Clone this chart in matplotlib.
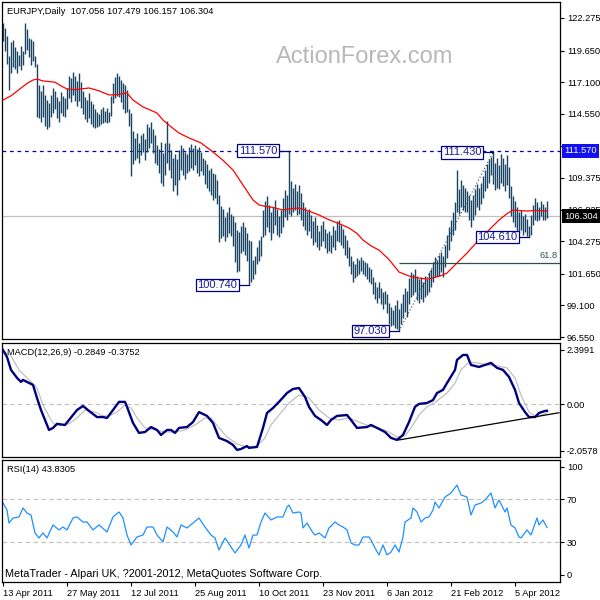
import numpy as np
import matplotlib
matplotlib.use('Agg')
import matplotlib.pyplot as plt
from matplotlib.transforms import blended_transform_factory as btf

plt.rcParams['font.family'] = ['Liberation Sans', 'DejaVu Sans']

# ---------------- data ----------------
title_main = "EURJPY,Daily  107.056 107.479 106.157 106.304"
title_macd = "MACD(12,26,9) -0.2849 -0.3752"
title_rsi = "RSI(14) 43.8305"
footer = "MetaTrader - Alpari UK, ?2001-2012, MetaQuotes Software Corp."
watermark = "ActionForex.com"

date_labels = ["13 Apr 2011", "27 May 2011", "12 Jul 2011", "25 Aug 2011", "10 Oct 2011",
               "23 Nov 2011", "6 Jan 2012", "21 Feb 2012", "5 Apr 2012"]
bars_per_label = 32

highs = [
    121.9, 121.5, 120.8, 119.2, 120.3, 120.5, 119.9, 119.6, 119.3, 120.0,
    119.6, 121.9, 121.4, 120.7, 120.6, 120.4, 119.2, 118.6, 116.9, 116.4,
    116.9, 116.1, 115.7, 115.4, 116.1, 116.6, 116.4, 115.9, 115.6, 116.3,
    116.0, 115.8, 116.6, 117.6, 117.4, 117.9, 117.6, 117.2, 117.8, 117.1,
    116.4, 115.9, 115.7, 116.2, 115.6, 115.3, 114.9, 114.7, 114.5, 114.9,
    115.1, 114.8, 115.0, 114.7, 116.0, 117.0, 117.5, 117.8, 117.6, 117.3,
    117.0, 116.9, 116.5, 114.9, 114.6, 113.2, 112.6, 113.0, 112.2, 112.8,
    113.0, 112.5, 113.7, 113.5, 113.9, 113.3, 112.8, 112.0, 111.7, 112.3,
    111.4, 112.2, 114.0, 112.2, 111.6, 111.0, 111.3, 110.9, 111.6, 112.0,
    111.8, 111.5, 111.3, 111.9, 112.1, 111.8, 112.0, 111.7, 111.9, 111.5,
    111.0, 110.8, 110.5, 110.0, 110.2, 109.8, 109.7, 109.2, 108.0, 107.1,
    106.9, 106.2, 106.6, 107.0, 106.5, 106.3, 105.8, 105.2, 105.0, 105.5,
    105.8, 105.4, 104.9, 104.4, 104.3, 102.8, 103.1, 103.8, 104.4, 104.7,
    106.8, 107.5, 107.9, 107.2, 106.6, 107.0, 107.6, 106.9, 106.3, 106.8,
    107.8, 108.4, 108.0, 111.57, 109.1, 108.6, 108.9, 108.3, 108.8, 108.2,
    107.4, 107.0, 106.7, 106.9, 106.4, 105.9, 106.2, 105.6, 105.1, 105.6,
    105.9, 105.3, 104.9, 105.1, 104.8, 105.5, 105.2, 105.9, 106.0, 105.6,
    105.3, 104.8, 104.4, 103.8, 103.1, 102.7, 102.4, 102.9, 102.8, 103.0,
    102.8, 102.6, 102.5, 102.2, 102.0, 101.4, 101.0, 100.6, 101.0, 100.5,
    100.2, 100.3, 100.0, 99.3, 99.0, 98.7, 99.1, 99.5, 98.8, 99.3,
    100.0, 100.5, 100.3, 101.3, 101.8, 101.6, 102.0, 101.5, 101.2, 101.4,
    101.0, 101.5, 101.2, 101.8, 102.0, 102.6, 103.0, 102.8, 103.2, 103.4,
    103.1, 104.0, 104.8, 105.4, 106.0, 106.6, 107.4, 110.0, 108.5, 109.2,
    108.8, 108.6, 108.3, 108.0, 107.6, 108.0, 108.5, 108.9, 108.6, 109.0,
    109.5, 110.0, 110.5, 110.9, 111.1, 111.43, 110.6, 111.0, 110.4, 111.3,
    111.0, 110.5, 111.2, 110.3, 108.7, 107.9, 107.5, 107.0, 106.6, 106.8,
    106.3, 106.5, 106.1, 105.5, 106.4, 107.2, 107.8, 107.4, 107.0, 107.5,
    107.3, 107.0, 107.479]

lows = [
    120.4, 119.6, 118.6, 116.5, 117.8, 118.3, 118.2, 117.8, 118.4, 118.1,
    118.5, 119.4, 119.7, 119.1, 118.5, 118.8, 118.3, 114.3, 114.2, 113.9,
    114.3, 113.6, 113.3, 113.5, 114.3, 114.6, 114.9, 114.2, 113.9, 114.6,
    114.4, 114.3, 114.9, 115.8, 115.5, 116.1, 115.6, 115.2, 115.6, 115.0,
    114.5, 114.1, 113.9, 114.2, 113.7, 113.5, 113.4, 113.5, 113.6, 113.7,
    113.8, 113.9, 113.8, 113.9, 114.4, 115.4, 115.8, 116.0, 115.9, 115.5,
    114.9, 114.6, 114.7, 113.6, 109.5, 110.5, 110.8, 111.0, 110.6, 111.2,
    111.5, 110.8, 111.5, 111.8, 112.2, 111.4, 110.6, 110.4, 109.8, 109.0,
    108.7, 109.6, 110.6, 110.0, 109.4, 108.3, 108.8, 108.0, 109.2, 110.0,
    109.6, 109.3, 109.8, 109.9, 110.2, 110.0, 110.4, 109.8, 109.5, 109.9,
    109.6, 108.9, 108.6, 108.3, 108.0, 107.6, 107.8, 107.3, 104.2, 104.5,
    104.7, 104.3, 104.6, 104.9, 104.7, 103.9, 102.6, 101.8, 101.9, 103.3,
    103.5, 103.2, 102.7, 100.74, 101.0, 101.2, 101.6, 102.4, 102.7, 103.1,
    104.6, 104.8, 105.4, 105.0, 104.4, 104.9, 105.6, 104.8, 104.6, 104.9,
    105.4, 106.2, 106.0, 106.5, 106.3, 106.6, 106.8, 106.4, 106.5, 106.0,
    105.5, 105.2, 104.8, 105.1, 104.5, 104.0, 104.2, 103.8, 103.6, 103.9,
    104.3, 103.7, 103.3, 103.5, 103.3, 103.8, 103.6, 104.3, 104.2, 104.0,
    103.7, 103.2, 102.9, 102.3, 101.6, 101.0, 101.3, 101.5, 101.6, 101.9,
    101.6, 101.5, 101.2, 101.0, 100.8, 100.0, 99.6, 99.3, 99.7, 99.2,
    98.8, 99.2, 98.5, 97.6, 97.4, 97.5, 97.3, 97.2, 97.03, 97.6,
    98.1, 98.6, 98.2, 99.2, 99.8, 99.9, 100.2, 99.5, 99.3, 99.6,
    99.4, 99.8, 99.9, 100.2, 100.6, 101.0, 101.4, 101.5, 101.5, 101.8,
    101.4, 102.2, 102.9, 103.6, 104.3, 104.8, 105.2, 106.6, 106.5, 107.0,
    106.8, 106.6, 106.6, 106.0, 105.4, 106.0, 106.4, 107.0, 106.8, 107.3,
    107.8, 108.3, 108.6, 109.0, 109.6, 108.9, 108.4, 108.6, 108.5, 109.0,
    108.7, 108.3, 108.8, 107.8, 106.3, 105.8, 105.4, 105.0, 104.9, 105.2,
    104.8, 105.0, 104.7, 104.61, 104.8, 105.6, 106.0, 105.9, 106.0, 106.3,
    106.0, 106.0, 106.157]

last_close = 106.304
resistance = 111.570

price_ticks = [122.275, 119.650, 117.100, 114.550, 111.925, 109.375,
               106.825, 104.275, 101.650, 99.100, 96.550]

ma_idx = [0, 4, 8, 12, 15, 17, 20, 26, 29, 32, 36, 43, 48, 53, 57, 62, 65, 70, 73, 77,
          80, 84, 88, 93, 99, 105, 110, 115, 120, 125, 128, 130, 135, 140, 144, 148, 153, 158, 163, 168,
          173, 177, 180, 184, 188, 193, 198, 203, 208, 212, 215, 219, 222, 225, 227, 232, 237, 240, 243, 248,
          252, 255, 258, 262, 267, 272]
ma_val = [115.66, 116.0, 116.5, 117.0, 117.27, 117.35, 117.2, 117.1, 116.8, 116.55,
          116.5, 116.63, 116.4, 116.07, 116.1, 116.23, 115.66, 115.10, 114.9, 114.61,
          114.05, 113.5, 113.0, 112.6, 112.2, 111.47, 110.8, 110.02, 108.8, 107.6,
          107.2, 107.12, 107.0, 106.79, 106.9, 106.95, 106.7, 106.39, 106.0, 105.7,
          105.34, 104.9, 104.37, 103.9, 103.56, 102.8, 101.79, 101.47, 101.3, 101.23,
          101.31, 101.5, 101.71, 102.2, 102.52, 103.32, 104.21, 104.7, 105.18, 105.98,
          106.5, 106.79, 106.75, 106.71, 106.75, 106.71]

swing_idx = [143, 123, 198, 245, 263]
swing_val = [111.570, 100.740, 97.030, 111.430, 104.610]

fib_idx = [198, 245]
fib_val = [97.030, 111.430]
fib_level = 61.8

macd_idx = [0, 2, 4, 7, 9, 10, 12, 15, 17, 19, 21, 23, 25, 27, 31, 33, 37, 40, 43, 47,
            50, 52, 55, 58, 61, 62, 65, 68, 71, 74, 77, 79, 82, 84, 86, 88, 92, 95, 98, 102,
            105, 108, 112, 115, 117, 119, 122, 123, 127, 130, 132, 135, 138, 142, 145, 148, 151, 153, 156, 159,
            162, 164, 167, 172, 174, 177, 182, 184, 187, 191, 194, 197, 200, 203, 206, 208, 212, 215, 217, 220,
            222, 226, 227, 230, 232, 234, 238, 241, 244, 247, 250, 253, 256, 258, 261, 263, 266, 268, 271, 272]
macd_val = [2.40, 2.09, 1.52, 1.17, 0.99, 1.08, 0.99, 0.86, 0.28, -0.25,
            -0.69, -1.13, -1.04, -0.86, -0.91, -0.69, -0.25, -0.07, -0.29, -0.56,
            -0.56, -0.60, -0.25, 0.11, 0.11, -0.11, -0.82, -1.26, -1.22, -1.00,
            -1.13, -1.35, -1.13, -1.13, -1.26, -1.04, -1.00, -0.78, -0.34, -0.51,
            -0.82, -1.48, -1.62, -1.79, -2.01, -1.97, -1.84, -1.92, -1.88, -1.04,
            -0.38, -0.16, 0.11, 0.50, 0.68, 0.72, 0.33, -0.11, -0.51, -0.69,
            -0.91, -0.69, -0.51, -0.47, -0.69, -1.04, -1.00, -0.91, -1.04, -1.22,
            -1.48, -1.57, -1.35, -0.78, -0.11, 0.02, 0.06, 0.19, 0.50, 0.64,
            0.94, 1.52, 1.96, 2.18, 2.18, 1.74, 1.65, 1.74, 1.83, 1.61,
            1.52, 1.21, 0.64, 0.06, -0.34, -0.56, -0.56, -0.38, -0.29, -0.2849]

sig_idx = [0, 4, 8, 13, 17, 20, 24, 26, 30, 33, 37, 41, 46, 50, 53, 57, 61, 64, 67, 71,
           76, 81, 86, 91, 96, 101, 104, 108, 112, 117, 122, 127, 131, 134, 138, 143, 148, 153, 158, 163,
           168, 173, 178, 183, 188, 193, 197, 201, 204, 208, 212, 217, 222, 226, 229, 233, 237, 242, 247, 252,
           256, 259, 263, 267, 272]
sig_val = [2.35, 2.15, 1.52, 1.08, 0.72, -0.03, -0.69, -0.91, -0.91, -0.86,
           -0.60, -0.25, -0.34, -0.51, -0.51, -0.34, -0.03, -0.16, -0.60, -1.04,
           -1.13, -1.22, -1.22, -1.13, -0.91, -0.60, -0.60, -1.04, -1.44, -1.75,
           -1.88, -1.84, -1.48, -0.91, -0.47, 0.06, 0.41, 0.28, -0.25, -0.60,
           -0.69, -0.60, -0.78, -0.95, -1.04, -1.22, -1.44, -1.39, -1.04, -0.47,
           -0.11, 0.15, 0.50, 0.94, 1.52, 1.87, 1.83, 1.74, 1.70, 1.61,
           1.17, 0.41, -0.34, -0.56, -0.3752]

macd_trend_idx = [198, 278]
macd_trend_val = [-1.57, -0.37]
macd_ticks = [2.3991, 0.0, -2.0578]
macd_tick_labels = ["2.3991", "0.00", "-2.0578"]

rsi_idx = [0, 2, 3, 5, 8, 10, 12, 14, 16, 18, 20, 22, 25, 28, 30, 32, 35, 37, 40, 42,
           45, 48, 52, 55, 58, 60, 62, 64, 67, 70, 72, 75, 77, 80, 82, 85, 87, 89, 92, 95,
           98, 101, 104, 106, 108, 111, 114, 116, 119, 121, 123, 125, 127, 129, 131, 134, 137, 140, 142, 143,
           145, 148, 149, 150, 152, 155, 156, 158, 161, 163, 166, 168, 170, 172, 174, 176, 178, 180, 183, 184,
           186, 188, 190, 192, 194, 196, 198, 200, 201, 204, 205, 207, 209, 211, 213, 215, 216, 218, 221, 224,
           227, 229, 232, 234, 236, 239, 241, 244, 246, 248, 251, 252, 254, 256, 258, 259, 262, 264, 267, 268,
           270, 272]
rsi_val = [66.5, 60.0, 48.0, 52.6, 53.6, 61.9, 57.2, 55.4, 38.8, 34.2,
           38.8, 34.2, 46.2, 41.6, 44.3, 41.6, 52.6, 53.6, 48.9, 48.9,
           41.6, 46.2, 39.7, 53.6, 58.2, 52.6, 36.9, 27.7, 35.1, 36.9,
           44.3, 44.3, 36.9, 30.5, 44.3, 39.7, 35.1, 46.2, 43.4, 48.0,
           52.6, 44.3, 36.9, 34.2, 23.1, 34.2, 25.9, 20.3, 27.7, 36.9,
           24.9, 36.9, 36.9, 48.9, 57.2, 50.8, 53.6, 53.6, 62.8, 64.6,
           57.2, 58.2, 57.2, 43.4, 48.0, 38.8, 36.9, 38.8, 34.2, 43.4,
           48.9, 46.2, 44.3, 41.6, 29.5, 27.7, 27.7, 35.1, 35.1, 32.3,
           24.9, 18.5, 27.7, 18.5, 21.2, 27.7, 21.2, 35.1, 48.9, 52.6,
           61.9, 58.2, 48.9, 52.6, 53.6, 60.0, 67.4, 61.9, 72.0, 75.7,
           83.1, 73.9, 72.0, 55.4, 64.6, 66.5, 69.3, 75.7, 61.9, 69.3,
           58.2, 61.9, 46.2, 43.4, 35.1, 34.2, 41.6, 36.9, 52.6, 46.2,
           50.8, 43.83]
rsi_levels = [70, 30]
rsi_ticks = [100, 70, 30, 0]

# ---------------- figure ----------------
W = H = 600
fig = plt.figure(figsize=(6, 6), dpi=100)
fig.patch.set_facecolor('white')


def ax_px(left, top, right, bottom):
    return fig.add_axes([left / W, 1 - bottom / H, (right - left) / W, (bottom - top) / H])


ax1 = ax_px(2, 2, 560, 339)
ax2 = ax_px(2, 343, 560, 457)
ax3 = ax_px(2, 460, 560, 582)

LBL = 6.7
n = len(highs)
idx = np.arange(n)
for ax in (ax1, ax2, ax3):
    ax.set_xlim(-0.5, 278.5)
    ax.yaxis.tick_right()
    ax.tick_params(axis='y', direction='out', length=3, width=0.8, pad=2,
                   labelsize=LBL, colors='black', left=False)
    ax.tick_params(axis='x', bottom=False, labelbottom=False)
    for s in ax.spines.values():
        s.set_linewidth(0.9)
        s.set_color('black')

# ---- main panel ----
ax1.set_ylim(96.39, 123.565)
ax1.set_yticks(price_ticks)
ax1.set_yticklabels([f"{v:.3f}" for v in price_ticks])
ax1.text(365 / W, 1 - 57 / H, watermark, transform=fig.transFigure, fontsize=17,
         color='#b8b8b8', ha='center', va='center', zorder=0.5)
ax1.vlines(idx, lows, highs, color='#1a4464', lw=1.0, zorder=2)
ax1.plot(ma_idx, ma_val, color='#ff0000', lw=0.9, zorder=3)
ax1.axhline(resistance, color='#0000cc', lw=0.9, ls=(0, (3, 3)), zorder=1)
ax1.axhline(last_close, color='#c0c0c0', lw=0.9, zorder=1)

# fibonacci
fib_price = fib_val[1] - fib_level / 100 * (fib_val[1] - fib_val[0])
ax1.plot(fib_idx, fib_val, color='#2f4f4f', lw=0.8, ls=(0, (1, 2)), zorder=3)
ax1.hlines(fib_price, fib_idx[0], 278.5, color='#2f4f4f', lw=0.9, zorder=3)
ax1.text(277.5, fib_price + 0.2, f"{fib_level:.1f}", color='#2f4f4f', fontsize=LBL,
         ha='right', va='bottom')

# swing labels
for i, v in zip(swing_idx, swing_val):
    ax1.plot([i - 5, i], [v, v], color='#000080', lw=0.9, zorder=4)
    ax1.text(i - 5.9, v, f"{v:.3f}", fontsize=8, color='#1a1a9a', ha='right', va='center',
             zorder=5, bbox=dict(boxstyle='square,pad=0.12', fc='white', ec='#000080', lw=0.9))

tr1 = btf(ax1.transAxes, ax1.transData)
ax1.text(1.007, resistance, f"{resistance:.3f}", transform=tr1, ha='left', va='center',
         color='white', fontsize=LBL, clip_on=False, zorder=10,
         bbox=dict(boxstyle='square,pad=0.25', fc='#1010f0', ec='none'))
ax1.text(1.007, last_close, f"{last_close:.3f}", transform=tr1, ha='left', va='center',
         color='white', fontsize=LBL, clip_on=False, zorder=10,
         bbox=dict(boxstyle='square,pad=0.25', fc='black', ec='none'))

# ---- MACD panel ----
ax2.set_ylim(-2.323, 2.708)
ax2.set_yticks(macd_ticks)
ax2.set_yticklabels(macd_tick_labels)
ax2.axhline(0, color='#c0c0c0', lw=0.8, ls=(0, (4, 3)))
ax2.plot(sig_idx, sig_val, color='#c0c0c0', lw=0.9, zorder=2)
ax2.plot(macd_idx, macd_val, color='#000080', lw=1.7, zorder=3)
ax2.plot(macd_trend_idx, macd_trend_val, color='black', lw=0.9, zorder=4)

# ---- RSI panel ----
ax3.set_ylim(-6.5, 106.2)
ax3.set_yticks(rsi_ticks)
ax3.set_yticklabels([str(t) for t in rsi_ticks])
for lv in rsi_levels:
    ax3.axhline(lv, color='#c0c0c0', lw=0.8, ls=(0, (4, 3)))
ax3.plot(rsi_idx, rsi_val, color='#1e90ff', lw=0.9)
ax3.set_xticks(np.arange(len(date_labels)) * bars_per_label)
ax3.set_xticklabels(date_labels)
ax3.tick_params(axis='x', bottom=True, labelbottom=True, direction='out', length=3,
                width=0.8, pad=2, labelsize=LBL)
for lbl in ax3.get_xticklabels():
    lbl.set_ha('left')

# ---- texts ----
fig.text(7 / W, 1 - 11 / H, title_main, fontsize=LBL, ha='left', va='center')
fig.text(7 / W, 1 - 352.5 / H, title_macd, fontsize=LBL, ha='left', va='center')
fig.text(7 / W, 1 - 470 / H, title_rsi, fontsize=LBL, ha='left', va='center')
fig.text(5 / W, 1 - 574 / H, footer, fontsize=7.8, ha='left', va='center')

fig.savefig('out.png', dpi=100, facecolor='white')
